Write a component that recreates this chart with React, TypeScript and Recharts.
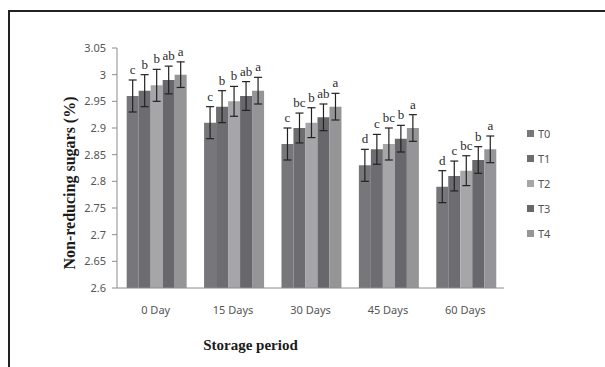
import React from 'react';
import { BarChart, Bar, XAxis, YAxis, ErrorBar, LabelList, Legend } from 'recharts';

const categories = ['0 Day', '15 Days', '30 Days', '45 Days', '60 Days'];
const seriesNames = ['T0', 'T1', 'T2', 'T3', 'T4'];
const T0 = [2.96, 2.91, 2.87, 2.83, 2.79];
const T1 = [2.97, 2.94, 2.9, 2.86, 2.81];
const T2 = [2.98, 2.95, 2.91, 2.87, 2.82];
const T3 = [2.99, 2.96, 2.92, 2.88, 2.84];
const T4 = [3.0, 2.97, 2.94, 2.9, 2.86];
const E0 = [0.03, 0.03, 0.03, 0.03, 0.03];
const E1 = [0.03, 0.03, 0.028, 0.028, 0.028];
const E2 = [0.03, 0.028, 0.028, 0.03, 0.028];
const E3 = [0.026, 0.027, 0.025, 0.025, 0.025];
const E4 = [0.024, 0.025, 0.025, 0.025, 0.025];
const L0 = ['c', 'c', 'c', 'd', 'd'];
const L1 = ['b', 'b', 'bc', 'c', 'c'];
const L2 = ['b', 'b', 'b', 'bc', 'bc'];
const L3 = ['ab', 'ab', 'ab', 'b', 'b'];
const L4 = ['a', 'a', 'a', 'a', 'a'];
const yTicks = [2.6, 2.65, 2.7, 2.75, 2.8, 2.85, 2.9, 2.95, 3, 3.05];
const colors = ['#77777b', '#6d6d71', '#a6a6a9', '#68686c', '#959598'];

const vals = [T0, T1, T2, T3, T4];
const errs = [E0, E1, E2, E3, E4];
const labs = [L0, L1, L2, L3, L4];

const data = categories.map((c, i) => {
  const row: any = { name: c, idx: i };
  seriesNames.forEach((s, k) => {
    row[s] = vals[k][i];
    row['e' + k] = errs[k][i];
    row['l' + k] = labs[k][i];
  });
  return row;
});

const makeLabel = (k: number) => (props: any) => {
  const { x, y, width, height, index } = props;
  const v = vals[k][index];
  const e = errs[k][index];
  const pxPer = height / (v - 2.6);
  const top = y - e * pxPer;
  return (
    <text
      x={x + width / 2}
      y={top - 6}
      textAnchor="middle"
      fontFamily="'Liberation Serif', serif"
      fontSize={13}
      fill="#2a2a2a"
    >
      {labs[k][index]}
    </text>
  );
};

const LegendContent = () => (
  <div style={{ fontFamily: "'Noto Sans', sans-serif", fontSize: 11, color: '#555' }}>
    {seriesNames.map((s, k) => (
      <div key={s} style={{ display: 'flex', alignItems: 'center', height: 25 }}>
        <span style={{ display: 'inline-block', width: 7, height: 7, background: colors[k], marginRight: 4 }} />
        <span>{s}</span>
      </div>
    ))}
  </div>
);

export default function App() {
  return (
    <div style={{ position: 'fixed', left: 0, top: 0, width: 605, height: 367, background: '#fff' }}>
      <div
        style={{
          position: 'absolute',
          left: 8,
          top: 10,
          width: 597,
          height: 357,
          borderTop: '2px solid #222',
          borderLeft: '2px solid #222',
          boxSizing: 'border-box',
        }}
      />
      <BarChart
        width={605}
        height={367}
        data={data}
        margin={{ top: 48, right: 101, bottom: 49, left: 67 }}
        barCategoryGap="12.5%"
        barGap={0}
        style={{ position: 'absolute', left: 0, top: 0 }}
      >
        <XAxis
          dataKey="name"
          tickLine={false}
          axisLine={{ stroke: '#8c8c8c' }}
          tickSize={5}
          tickMargin={13}
          height={30}
          tick={{ fontFamily: "'Noto Sans', sans-serif", fontSize: 11, fill: '#555' }}
          label={{
            content: (p: any) => (
              <text
                x={p.viewBox.x + p.viewBox.width / 2 - 60}
                y={p.viewBox.y + 57}
                textAnchor="middle"
                dominantBaseline="central"
                fontFamily="'Liberation Serif', serif"
                fontWeight="bold"
                fontSize={15}
                fill="#1a1a1a"
              >
                Storage period
              </text>
            ),
          }}
        />
        <XAxis
          xAxisId="b"
          type="number"
          domain={[0, 5]}
          ticks={[0, 1, 2, 3, 4, 5]}
          axisLine={false}
          tickLine={{ stroke: '#8c8c8c' }}
          tickSize={5}
          tickFormatter={() => ''}
          height={0}
        />
        <YAxis
          domain={[2.6, 3.05]}
          ticks={yTicks}
          width={50}
          tickSize={5}
          tickMargin={6}
          axisLine={{ stroke: '#8c8c8c' }}
          tickLine={{ stroke: '#8c8c8c' }}
          tickFormatter={(v: number) => String(v)}
          tick={{ fontFamily: "'Noto Sans', sans-serif", fontSize: 11, fill: '#555' }}
          label={{
            content: (p: any) => (
              <text
                x={0}
                y={0}
                transform={`translate(${p.viewBox.x + 2}, ${p.viewBox.y + p.viewBox.height / 2 + 15}) rotate(-90)`}
                textAnchor="middle"
                dominantBaseline="central"
                fontFamily="'Liberation Serif', serif"
                fontWeight="bold"
                fontSize={16}
                fill="#1a1a1a"
              >
                Non-reducing sugars (%)
              </text>
            ),
          }}
        />
        <Legend
          layout="vertical"
          align="center"
          verticalAlign="middle"
          content={<LegendContent />}
          wrapperStyle={{ position: 'absolute', left: 527, top: 121, width: 40 }}
        />
        {seriesNames.map((s, k) => (
          <Bar key={s} dataKey={s} fill={colors[k]} isAnimationActive={false}>
            <ErrorBar dataKey={'e' + k} width={4} stroke="#222" strokeWidth={1.2} isAnimationActive={false} />
            <LabelList dataKey={'l' + k} content={makeLabel(k)} />
          </Bar>
        ))}
      </BarChart>
    </div>
  );
}
